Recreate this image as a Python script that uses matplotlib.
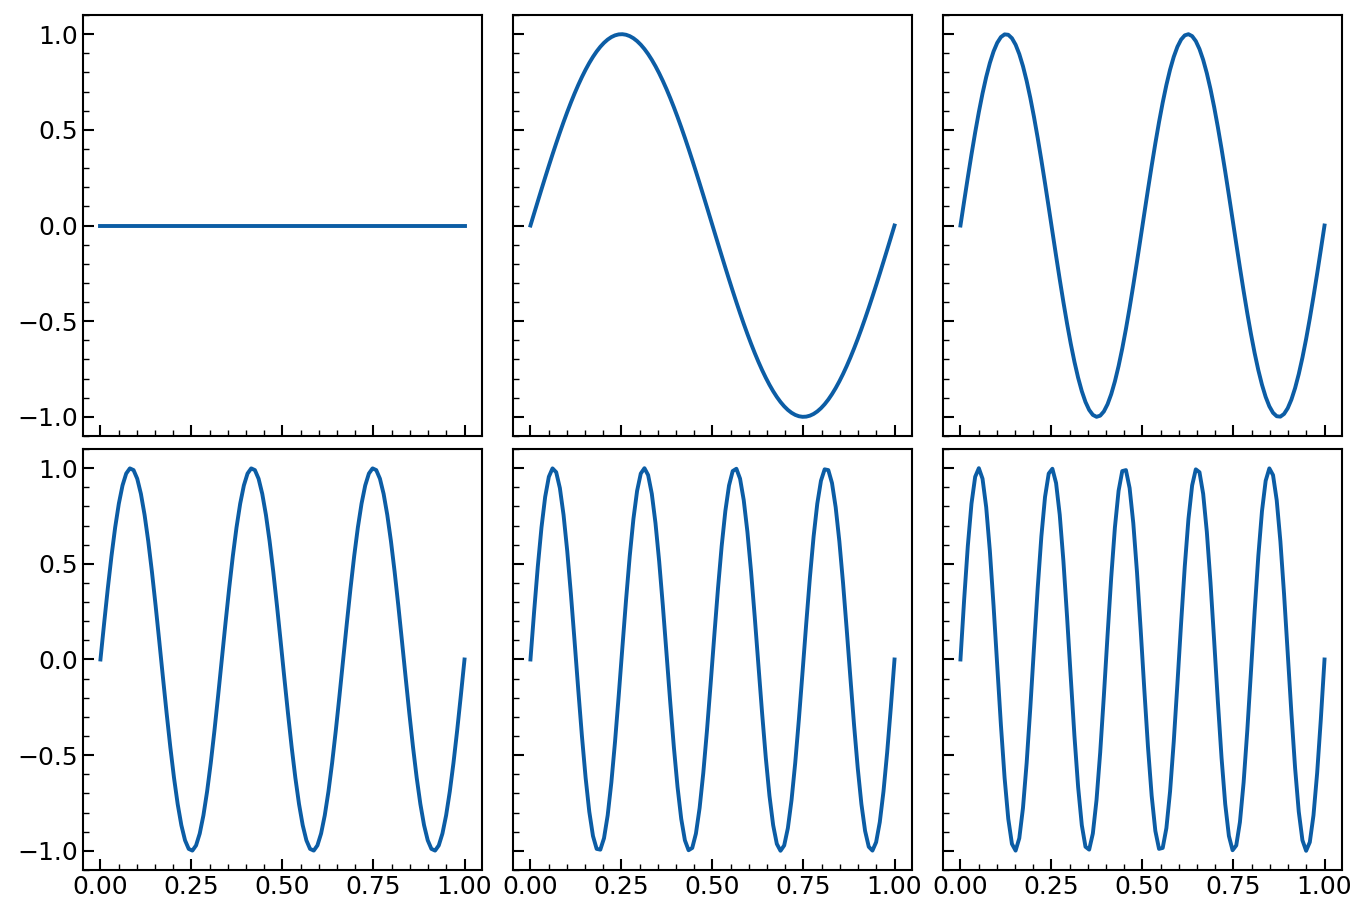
import numpy as np
import matplotlib
matplotlib.use("Agg")
import matplotlib.pyplot as plt
from matplotlib.ticker import MultipleLocator

# Frequenzen der sechs Panels (Anzahl Perioden auf [0, 1])
frequencies = [0, 1, 2, 3, 4, 5]
n_samples = 100
x_ticks = [0.00, 0.25, 0.50, 0.75, 1.00]
y_ticks = [-1.0, -0.5, 0.0, 0.5, 1.0]

x = np.linspace(0, 1, n_samples)

plt.rcParams.update({
    "font.size": 18,
    "axes.linewidth": 1.5,
    "xtick.direction": "in",
    "ytick.direction": "in",
    "xtick.major.size": 8,
    "ytick.major.size": 8,
    "xtick.minor.size": 4,
    "ytick.minor.size": 4,
    "xtick.major.width": 1.5,
    "ytick.major.width": 1.5,
    "xtick.minor.width": 1.0,
    "ytick.minor.width": 1.0,
})

fig, axes = plt.subplots(2, 3, figsize=(13.67, 9.17), dpi=100, sharex=True, sharey=True)
plt.subplots_adjust(left=0.0607, right=0.9817, top=0.9836, bottom=0.0513,
                    wspace=0.0777, hspace=0.031)

for ax, k in zip(axes.flat, frequencies):
    ax.plot(x, np.sin(2 * np.pi * k * x), color="#0C5DA5", linewidth=2.8)
    ax.set_xticks(x_ticks)
    ax.set_yticks(y_ticks)
    ax.xaxis.set_minor_locator(MultipleLocator(0.05))
    ax.yaxis.set_minor_locator(MultipleLocator(0.1))
    ax.set_xlim(-0.048, 1.048)
    ax.set_ylim(-1.1, 1.1)

axes[0, 0].xaxis.set_major_formatter(plt.FormatStrFormatter("%.2f"))

fig.savefig("out.png", dpi=100)
